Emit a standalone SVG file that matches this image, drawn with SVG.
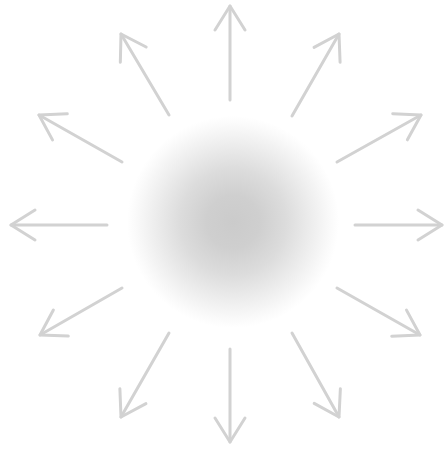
<svg xmlns="http://www.w3.org/2000/svg" width="446" height="449" viewBox="0 0 446 449">
  <defs>
    <radialGradient id="glow" cx="0.5" cy="0.5" r="0.5">
      <stop offset="0" stop-color="#cbcbcb"/>
      <stop offset="0.25" stop-color="#cfcfcf"/>
      <stop offset="0.5" stop-color="#dcdcdc"/>
      <stop offset="0.75" stop-color="#eeeeee"/>
      <stop offset="0.92" stop-color="#fafafa"/>
      <stop offset="1" stop-color="#ffffff"/>
    </radialGradient>
    <marker id="head" markerUnits="userSpaceOnUse" markerWidth="40" markerHeight="40" refX="0" refY="0" viewBox="-30 -20 40 40" orient="auto" overflow="visible">
      <path d="M-24,-15 L0,0 L-24,15" fill="none" stroke="#d2d2d2" stroke-width="3" stroke-linecap="round" stroke-linejoin="round"/>
    </marker>
    <filter id="soft" x="-10%" y="-10%" width="120%" height="120%">
      <feGaussianBlur stdDeviation="0.5"/>
    </filter>
  </defs>
  <style>
    .ray { fill: none; stroke: #d2d2d2; stroke-width: 3; stroke-linecap: round; marker-end: url(#head); }
  </style>
  <rect width="446" height="449" fill="#ffffff"/>
  <g id="glow-node">
    <circle cx="233" cy="222" r="106" fill="url(#glow)"/>
  </g>
  <g id="connectors" filter="url(#soft)">
    <line class="ray" x1="230" y1="100" x2="230" y2="6"/>
    <line class="ray" x1="230" y1="349" x2="230" y2="442"/>
    <line class="ray" x1="107" y1="225" x2="11" y2="225"/>
    <line class="ray" x1="355" y1="225" x2="442" y2="225"/>
    <line class="ray" x1="169" y1="115" x2="121" y2="34"/>
    <line class="ray" x1="292" y1="116" x2="339" y2="34"/>
    <line class="ray" x1="122" y1="162" x2="39" y2="115"/>
    <line class="ray" x1="337" y1="162" x2="421" y2="115"/>
    <line class="ray" x1="122" y1="288" x2="40" y2="335"/>
    <line class="ray" x1="337" y1="288" x2="420" y2="335"/>
    <line class="ray" x1="169" y1="333" x2="121" y2="417"/>
    <line class="ray" x1="292" y1="333" x2="339" y2="417"/>
  </g>
</svg>
